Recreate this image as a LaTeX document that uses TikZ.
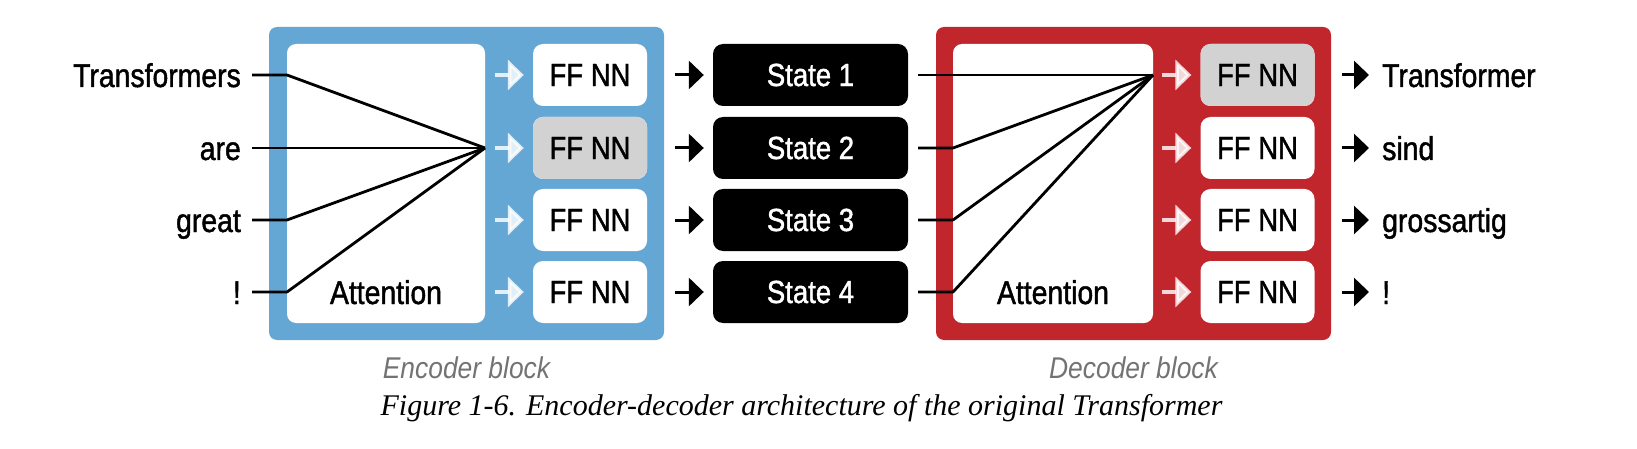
\documentclass[tikz,border=0pt]{standalone}
\usepackage{fontspec}
\setmainfont{Liberation Sans}[FakeStretch=0.88]
\newfontfamily\diafont{Liberation Sans}[FakeStretch=0.86, FakeBold=1.3]
\newfontfamily\capfont{Liberation Serif}
\usetikzlibrary{arrows.meta}
\definecolor{encblue}{RGB}{100,167,212}
\definecolor{decred}{RGB}{193,38,45}
\definecolor{ffgrey}{RGB}{210,210,210}
\definecolor{lblgrey}{RGB}{115,115,115}
\begin{document}
\begin{tikzpicture}[x=1pt,y=-1pt,
  txt/.style={font=\diafont\fontsize{33}{40}\selectfont, inner sep=0pt},
  boxtxt/.style={font=\diafont\fontsize{32}{38}\selectfont},
  blockbg/.style={rounded corners=8pt, inner sep=0pt, minimum width=395pt, minimum height=313pt},
  attbox/.style={fill=white, rounded corners=9pt, inner sep=0pt, minimum height=279pt},
  ffbox/.style={fill=white, rounded corners=10pt, inner sep=0pt, minimum width=114pt, minimum height=62pt, boxtxt},
  statebox/.style={fill=black, text=white, rounded corners=10pt, inner sep=0pt, minimum width=195pt, minimum height=62pt, boxtxt},
  wire/.style={line width=2.8pt, black},
  blkarr/.style={line width=3pt, black, -{Triangle[length=15pt,width=28pt]}},
  litarr/.style={line width=3.5pt, white, opacity=0.82, -{Triangle[length=16pt,width=30pt]}},
  blocklbl/.style={font=\fontsize{30}{36}\selectfont\itshape, text=lblgrey, inner sep=0pt},
]
\useasboundingbox (0,0) rectangle (1637,449);

% blocks
\node[blockbg, fill=encblue] (enc) at (466.5,183.5) {};
\node[blockbg, fill=decred] (dec) at (1133.5,183.5) {};
\node[attbox, minimum width=198pt] (eatt) at (386,183.5) {};
\node[attbox, minimum width=200pt] (datt) at (1053,183.5) {};
\node[txt, anchor=base] (eattlbl) at (386,304) {Attention};
\node[txt, anchor=base] (dattlbl) at (1053,304) {Attention};

% focus points
\coordinate (efocus) at (485,148);
\coordinate (dfocus) at (1153,75);

% rows
\foreach \i/\y/\w/\o in {1/75/Transformers/Transformer, 2/148/are/sind, 3/220/great/grossartig, 4/292/!/!}{
  \node[txt, anchor=base east] (in\i) at (241,\y+12) {\w};
  \coordinate (ia\i) at (252,\y);
  \coordinate (ib\i) at (287,\y);
  \node[ffbox] (eff\i) at (590,\y) {FF NN};
  \node[statebox] (st\i) at (810.5,\y) {State \i};
  \node[ffbox] (dff\i) at (1257.5,\y) {FF NN};
  \node[txt, anchor=base west] (out\i) at (1382,\y+12) {\o};
  \coordinate (oa\i) at (1342,\y);
  \coordinate (ob\i) at (1369,\y);
  \coordinate (da\i) at (918,\y);
  \coordinate (db\i) at (953,\y);
  \draw[litarr] (495,\y) -- ([xshift=-9pt]eff\i.west);
  \draw[litarr] (1162,\y) -- ([xshift=-9pt]dff\i.west);
  \draw[blkarr] (675,\y) -- ([xshift=-9pt]st\i.west);
  \draw[blkarr] (oa\i) -- (ob\i);
}
\node[ffbox, fill=ffgrey] at (eff2) {FF NN};
\node[ffbox, fill=ffgrey] at (dff1) {FF NN};

% attention wires
\foreach \i in {1,2,3,4}{
  \draw[wire, line join=round] (ia\i) -- (ib\i) -- (efocus);
}
\draw[wire] (da1) -- (dfocus);
\foreach \i in {2,3,4}{
  \draw[wire, line join=round] (da\i) -- (db\i) -- (dfocus);
}

% labels
\node[blocklbl, anchor=base] (enclbl) at (466.5,378) {Encoder block};
\node[blocklbl, anchor=base] (declbl) at (1133.5,378) {Decoder block};
\node[inner sep=0pt, anchor=base, font=\capfont\itshape\fontsize{30}{35}\selectfont] (caption) at (801.5,415) {Figure 1-6. Encoder-decoder architecture of the original Transformer};
\end{tikzpicture}
\end{document}
